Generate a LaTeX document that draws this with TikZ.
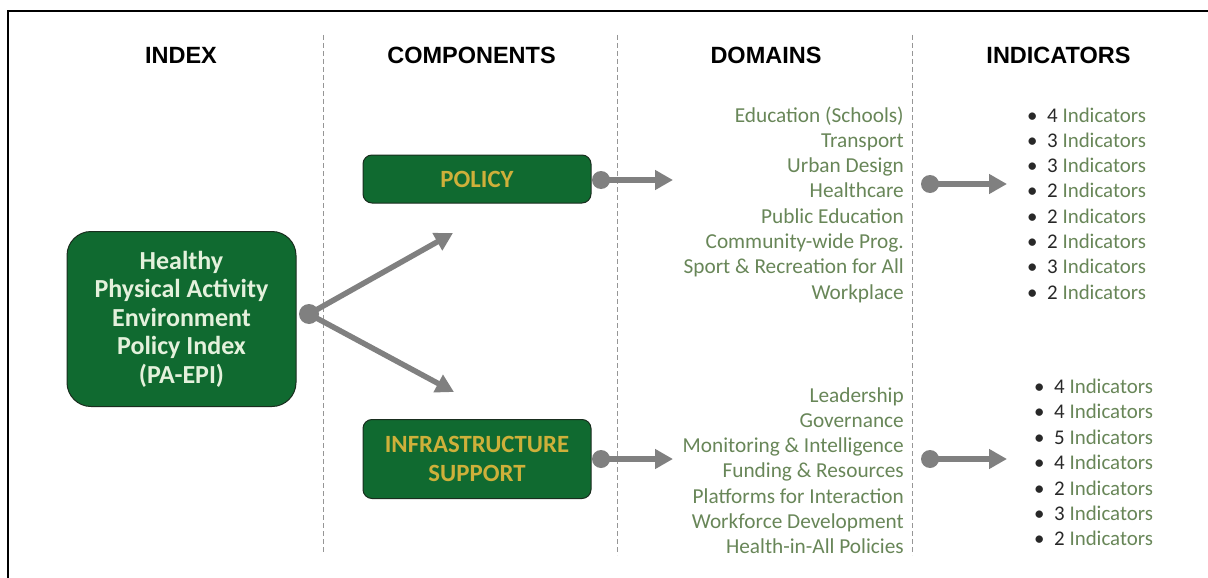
\documentclass[tikz,border=0pt]{standalone}
\usepackage{fontspec}
\setmainfont{Carlito}
\newfontfamily\headfont{Liberation Sans}
\usetikzlibrary{arrows.meta}

\definecolor{boxgreen}{RGB}{16,106,48}
\definecolor{boxline}{RGB}{25,45,30}
\definecolor{gold}{RGB}{206,176,58}
\definecolor{paletext}{RGB}{228,241,220}
\definecolor{arrowgrey}{RGB}{128,128,128}
\definecolor{domgreen}{RGB}{104,134,88}
\definecolor{numc}{RGB}{40,40,40}
\definecolor{dashc}{RGB}{150,150,150}

\begin{document}
\begin{tikzpicture}[x=1pt,y=-1pt,
  head/.style={font=\headfont\bfseries\fontsize{23.5}{28}\selectfont, anchor=base, inner sep=0pt},
  divider/.style={draw=dashc, line width=0.9pt, dash pattern=on 5pt off 3pt},
  greenbox/.style={draw=boxline, line width=1pt, fill=boxgreen, align=center, inner sep=0pt},
  comp/.style={greenbox, rounded corners=9pt, minimum width=228pt, text=gold,
    font=\bfseries\fontsize{24.8}{29}\selectfont},
  dot/.style={circle, fill=arrowgrey, inner sep=0pt, minimum size=18pt},
  link/.style={draw=arrowgrey, line width=5.5pt, -{Triangle[length=18pt,width=19pt]}},
  dom/.style={font=\fontsize{21.3}{25.3}\selectfont, text=domgreen, anchor=base east, inner sep=0pt},
  ind/.style={font=\fontsize{20.9}{25.3}\selectfont, text=domgreen, anchor=base west, inner sep=0pt}
]
\useasboundingbox (0,0) rectangle (1208,578);

% frame (its right and bottom sides lie beyond the page)
\draw[line width=2pt] (8,578) -- (8,11) -- (1208,11);

% column headings
\node[head] (hIndex) at (181,64) {INDEX};
\node[head] (hComp) at (471.5,64) {COMPONENTS};
\node[head] (hDom) at (766,64) {DOMAINS};
\node[head] (hInd) at (1058.5,64) {INDICATORS};

% column dividers
\draw[divider] (323,35) -- (323,553);
\draw[divider] (617,35) -- (617,555);
\draw[divider] (912,35) -- (912,555);

% index box
\node[greenbox, rounded corners=24pt, minimum width=229pt, minimum height=175pt,
      text=paletext, font=\bfseries\fontsize{26}{28.5}\selectfont]
  (index) at (181.5,319)
  {Healthy\\Physical Activity\\Environment\\Policy Index\\(PA-EPI)};

% component boxes
\node[comp, minimum height=48pt] (policy) at (477,179) {POLICY};
\node[comp, minimum height=79pt] (infra) at (477,459) {INFRASTRUCTURE\\SUPPORT};

% index to components
\node[dot, minimum size=20pt] (d0) at (309,314) {};
\coordinate (tUp) at (453,233);
\coordinate (tDown) at (454,392);
\draw[link] (d0.center) -- (tUp);
\draw[link] (d0.center) -- (tDown);

% components to domains
\node[dot] (d1) at (601,180) {};
\coordinate (t1) at (673,180);
\draw[link] (d1.center) -- (t1);
\node[dot] (d2) at (601,459) {};
\coordinate (t2) at (673,459);
\draw[link] (d2.center) -- (t2);

% domains to indicators
\node[dot] (d3) at (930,184) {};
\coordinate (t3) at (1007,184);
\draw[link] (d3.center) -- (t3);
\node[dot] (d4) at (930,459) {};
\coordinate (t4) at (1007,459);
\draw[link] (d4.center) -- (t4);

% policy domains
\foreach \t [count=\i] in {Education (Schools), Transport, Urban Design, Healthcare,
    Public Education, Community-wide Prog., Sport \& Recreation for All, Workplace}
  \node[dom] (pd\i) at (904,{122+25.3*(\i-1)}) {\t};

% infrastructure support domains
\foreach \t [count=\i] in {Leadership, Governance, Monitoring \& Intelligence,
    Funding \& Resources, Platforms for Interaction, Workforce Development,
    Health-in-All Policies}
  \node[dom] (id\i) at (904,{402+25.3*(\i-1)}) {\t};

% policy indicator counts
\foreach \n [count=\i] in {4,3,3,2,2,2,3,2}
  \node[ind] (pi\i) at (1027,{122+25.3*(\i-1)})
    {\makebox[20pt][l]{\textcolor{numc}{\textbullet}}\textcolor{numc}{\n}\ Indicators};

% infrastructure support indicator counts
\foreach \n [count=\i] in {4,4,5,4,2,3,2}
  \node[ind] (ii\i) at (1034,{393.5+25.4*(\i-1)})
    {\makebox[20pt][l]{\textcolor{numc}{\textbullet}}\textcolor{numc}{\n}\ Indicators};
\end{tikzpicture}
\end{document}
